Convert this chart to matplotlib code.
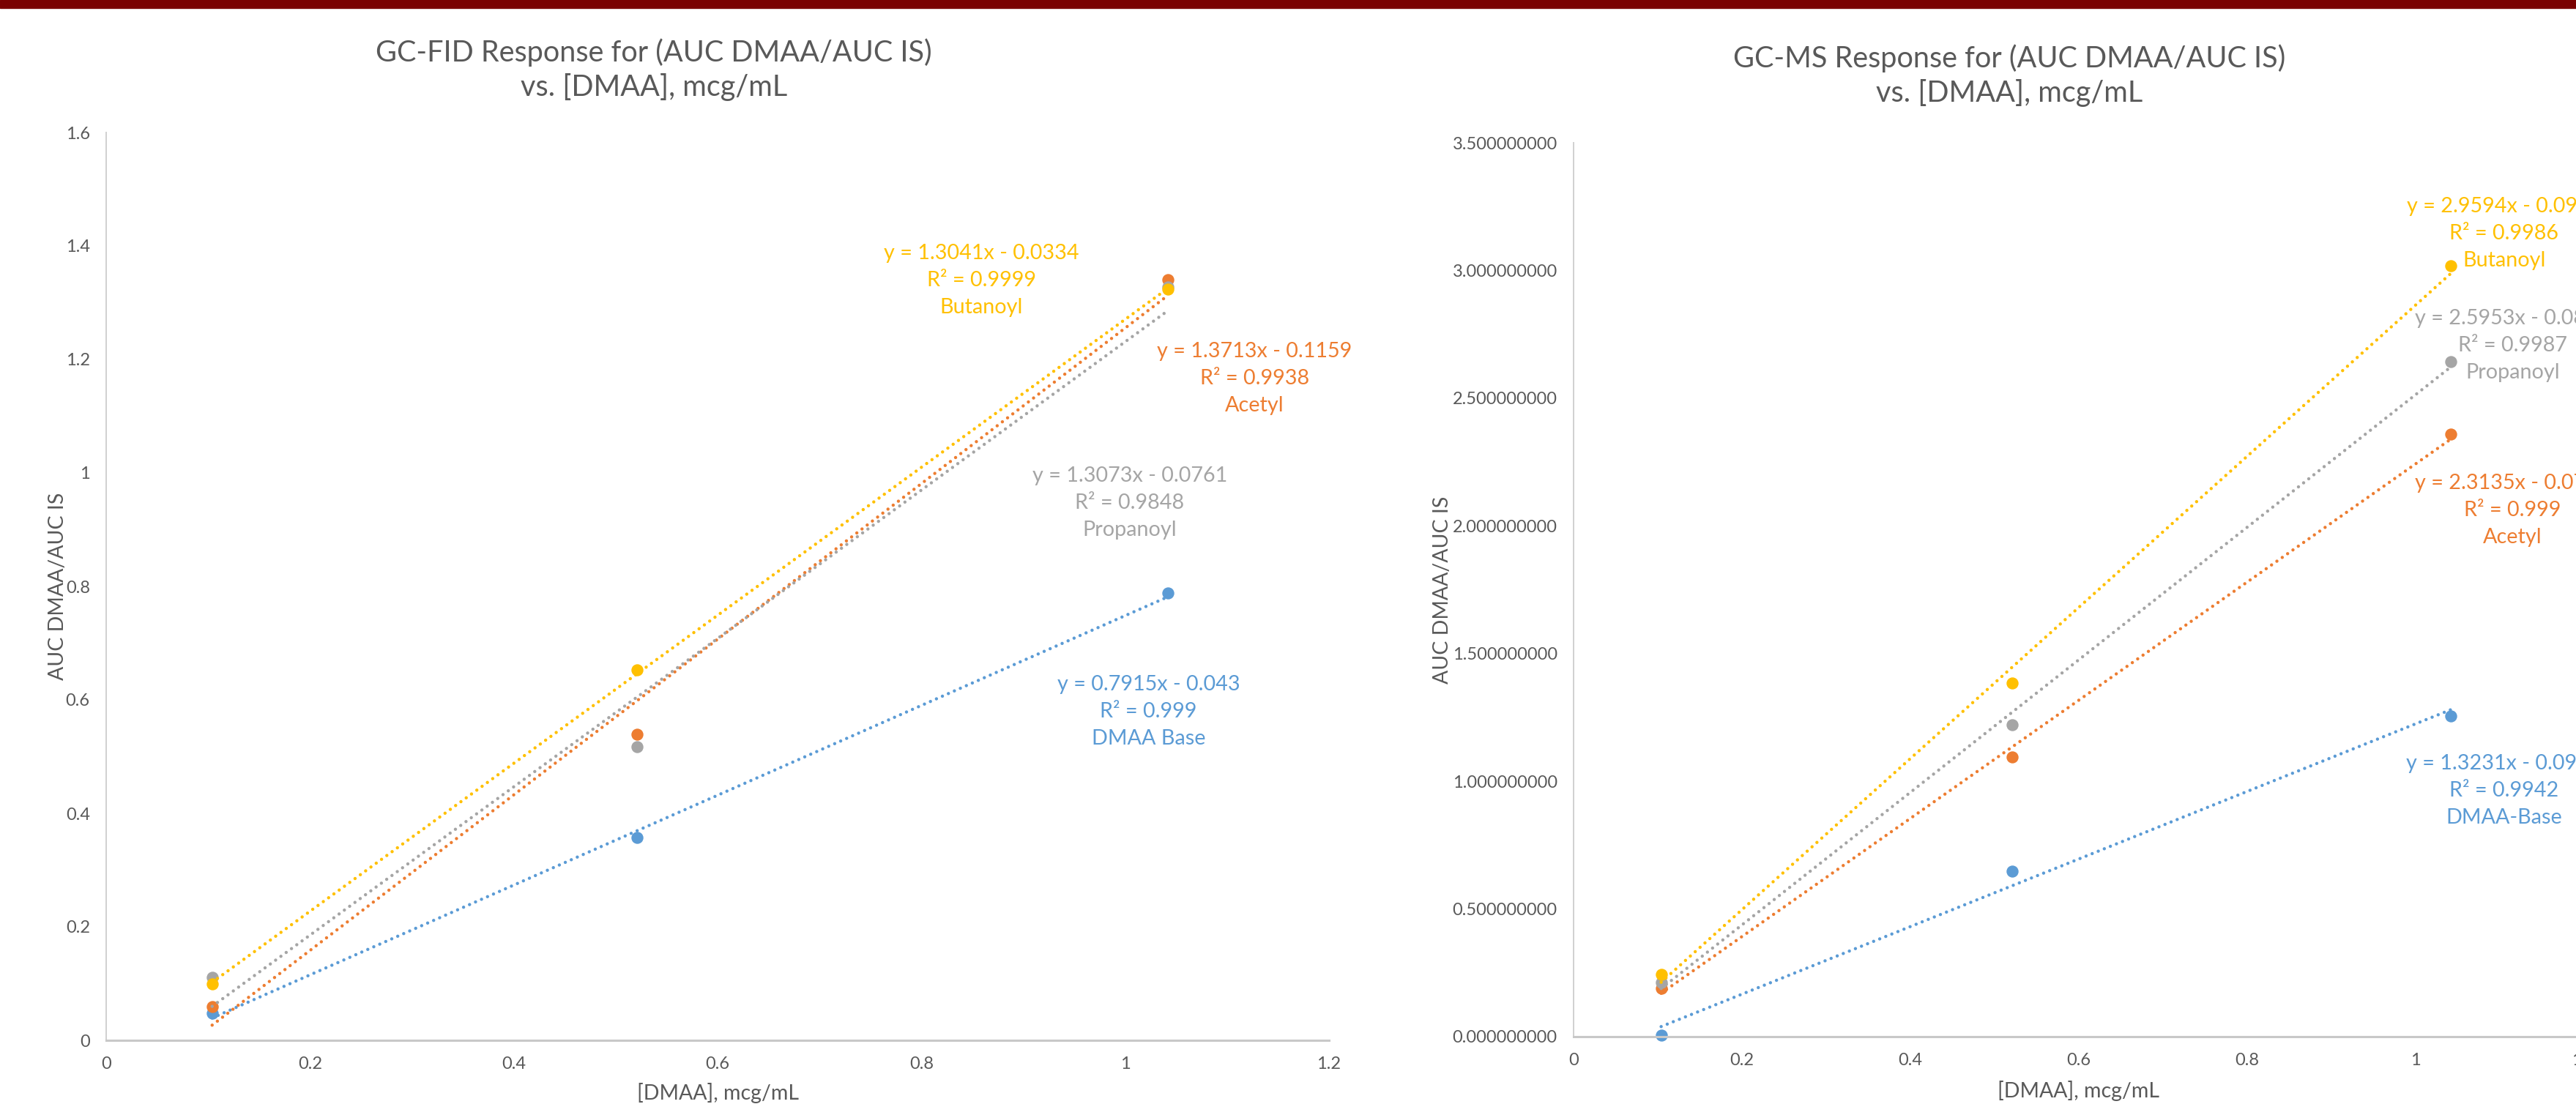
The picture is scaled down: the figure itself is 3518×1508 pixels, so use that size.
import matplotlib
matplotlib.use("Agg")
import matplotlib.pyplot as plt
import matplotlib.ticker as mticker
from matplotlib.patches import Rectangle
import numpy as np

plt.rcParams['font.family'] = ['Lato', 'DejaVu Sans']

# concentration of DMAA standards, mcg/mL
conc = [0.104, 0.521, 1.042]

# GC-FID ratios (AUC DMAA / AUC IS)
fid_names = ['DMAA Base', 'Acetyl', 'Propanoyl', 'Butanoyl']
fid_base = [0.048, 0.357, 0.788]
fid_acetyl = [0.060, 0.540, 1.341]
fid_propanoyl = [0.111, 0.518, 1.328]
fid_butanoyl = [0.100, 0.653, 1.324]
fid_slope = [0.7915, 1.3713, 1.3073, 1.3041]
fid_icpt = [-0.043, -0.1159, -0.0761, -0.0334]
fid_r2 = ['0.999', '0.9938', '0.9848', '0.9999']

# GC-MS ratios
ms_names = ['DMAA-Base', 'Acetyl', 'Propanoyl', 'Butanoyl']
ms_base = [0.007, 0.647, 1.256]
ms_acetyl = [0.188, 1.095, 2.359]
ms_propanoyl = [0.213, 1.222, 2.644]
ms_butanoyl = [0.244, 1.385, 3.017]
ms_slope = [1.3231, 2.3135, 2.5953, 2.9594]
ms_icpt = [-0.0982, -0.0707, -0.0815, -0.0948]
ms_r2 = ['0.9942', '0.999', '0.9987', '0.9986']

colours = ['#5B9BD5', '#ED7D31', '#A5A5A5', '#FFC000']
grey_txt = '#595959'

W, H = 3518, 1508
fig = plt.figure(figsize=(W / 100, H / 100), dpi=100)
fig.patches.append(Rectangle((0, 1 - 11 / H), 1, 11 / H, transform=fig.transFigure,
                             color='#7A0000', zorder=5))


def setup_axes(rect_px, ylim, ystep, yfmt):
    x0, x1, ytop, ybot = rect_px
    ax = fig.add_axes([x0 / W, 1 - ybot / H, (x1 - x0) / W, (ybot - ytop) / H])
    ax.set_xlim(0, 1.2)
    ax.set_ylim(0, ylim)
    ax.xaxis.set_major_locator(mticker.MultipleLocator(0.2))
    ax.yaxis.set_major_locator(mticker.MultipleLocator(ystep))
    ax.xaxis.set_major_formatter(mticker.FuncFormatter(lambda v, p: f"{v:g}"))
    ax.yaxis.set_major_formatter(mticker.FuncFormatter(yfmt))
    for s in ['top', 'right']:
        ax.spines[s].set_visible(False)
    ax.spines['bottom'].set_color('#C8C8C8')
    ax.spines['bottom'].set_linewidth(2.2)
    ax.spines['left'].set_color('#D0D0D0')
    ax.spines['left'].set_linewidth(1.4)
    ax.tick_params(length=0, labelsize=17, labelcolor=grey_txt)
    ax.tick_params(axis='y', pad=16)
    ax.tick_params(axis='x', pad=16)
    ax.set_xlabel('[DMAA], mcg/mL', fontsize=20.5, color=grey_txt)
    ax.set_ylabel('AUC DMAA/AUC IS', fontsize=20.5, color=grey_txt)
    ax.xaxis.label.set_va('center')
    ax.yaxis.label.set_va('center')
    return ax


def draw_series(ax, series, slopes, icpts, r2s, names, label_pos):
    x = np.array(conc)
    xs = np.array([x.min(), x.max()])
    for i, ys in enumerate(series):
        ax.plot(conc, ys, 'o', ms=10.8, color=colours[i], mec=colours[i], zorder=2, clip_on=False)
    for i, ys in enumerate(series):
        ax.plot(xs, slopes[i] * xs + icpts[i], color=colours[i], lw=3.2,
                linestyle=(0, (0.01, 2.0)), dash_capstyle='round', zorder=3)
        sign = '-' if icpts[i] < 0 else '+'
        txt = f"y = {slopes[i]:g}x {sign} {abs(icpts[i]):g}\nR² = {r2s[i]}\n{names[i]}"
        ax.text(label_pos[i][0], label_pos[i][1], txt, color=colours[i], fontsize=20.7,
                ha='center', va='center', multialignment='center', linespacing=1.52,
                zorder=4, clip_on=False)


# left panel: GC-FID
ax1 = setup_axes((145, 1815, 181, 1421), 1.6, 0.2, lambda v, p: f"{v:g}")
ax1.xaxis.set_label_coords(0.5, -72 / 1240)
ax1.yaxis.set_label_coords(-66 / 1670, 0.5)
draw_series(ax1, [fid_base, fid_acetyl, fid_propanoyl, fid_butanoyl],
            fid_slope, fid_icpt, fid_r2, fid_names,
            [(1.023, 0.579), (1.127, 1.166), (1.0045, 0.947), (0.859, 1.339)])
fig.text(893 / W, 1 - 95 / H, 'GC-FID Response for (AUC DMAA/AUC IS)\nvs. [DMAA], mcg/mL',
         ha='center', va='center', fontsize=28.5, color=grey_txt, linespacing=1.3)

# right panel: GC-MS (runs past the right edge of the page)
ax2 = setup_axes((2149, 3529, 195, 1416), 3.5, 0.5, lambda v, p: f"{v:.9f}")
ax2.xaxis.set_label_coords(0.5, -74 / 1221)
ax2.yaxis.set_label_coords(-179 / 1380, 0.5)
draw_series(ax2, [ms_base, ms_acetyl, ms_propanoyl, ms_butanoyl],
            ms_slope, ms_icpt, ms_r2, ms_names,
            [(1.105, 0.963), (1.115, 2.06), (1.115, 2.705), (1.105, 3.145)])
fig.text(2744 / W, 1 - 103 / H, 'GC-MS Response for (AUC DMAA/AUC IS)\nvs. [DMAA], mcg/mL',
         ha='center', va='center', fontsize=28.5, color=grey_txt, linespacing=1.3)

fig.savefig('out.png', dpi=100, facecolor='white')
